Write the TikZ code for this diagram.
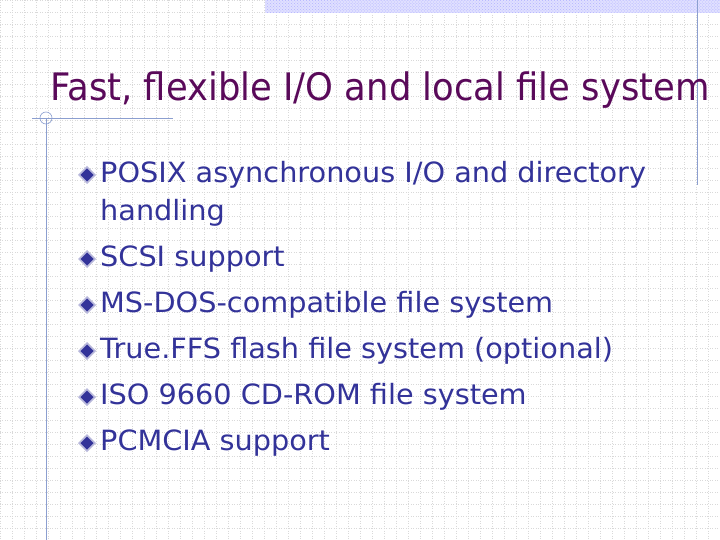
\documentclass[tikz,border=0pt]{standalone}
\usepackage{fontspec}
\setmainfont{DejaVu Sans}
\usetikzlibrary{patterns}
\definecolor{titlec}{HTML}{5A0A5A}
\definecolor{bodyc}{HTML}{333399}
\definecolor{linec}{HTML}{8C9FD0}
\tikzset{
  body/.style={anchor=west,text=bodyc,font=\fontsize{28}{32}\selectfont\addfontfeatures{FakeStretch=1.03}, inner sep=0pt},
}
\begin{document}
\begin{tikzpicture}[x=1bp,y=-1bp]
\useasboundingbox (0,0) rectangle (720,540);
\fill[white] (0,0) rectangle (720,540);
\foreach \i in {0,12,...,720} \draw[gray!30,dotted,line width=0.5pt] (\i,0)--(\i,540);
\foreach \i in {0,12,...,540} \draw[gray!30,dotted,line width=0.5pt] (0,\i)--(720,\i);
\fill[blue!12] (265,0) rectangle (720,13);
\fill[pattern=crosshatch dots,pattern color=blue!30] (265,0) rectangle (720,13);
\draw[linec,line width=0.8pt] (697,0)--(697,185);
\draw[linec,line width=0.8pt] (32,118)--(173,118);
\draw[linec,line width=0.8pt] (46,118)--(46,540);
\draw[linec,line width=0.6pt] (46,118) circle (6);
\node[anchor=base west,text=titlec,inner sep=0pt,font=\fontsize{38}{42}\selectfont\addfontfeatures{FakeStretch=0.935}] (title) at (50,101) {Fast, flexible I/O and local file system};
\foreach \y/\t [count=\k] in {175/{POSIX asynchronous I/O and directory},259/{SCSI support},305/{MS-DOS-compatible file system},351/{True.FFS flash file system (optional)},397/{ISO 9660 CD-ROM file system},443/{PCMCIA support}}{
  \fill[white!65!bodyc] (87,\y-9)--(96,\y)--(87,\y+9)--(78,\y)--cycle;
  \fill[bodyc] (87,\y-6.5)--(93.5,\y)--(87,\y+6.5)--(80.5,\y)--cycle;
  \node[body] (t\k) at (100,\y) {\t};
}
\node[body] (t1b) at (100,213) {handling};
\end{tikzpicture}
\end{document}
